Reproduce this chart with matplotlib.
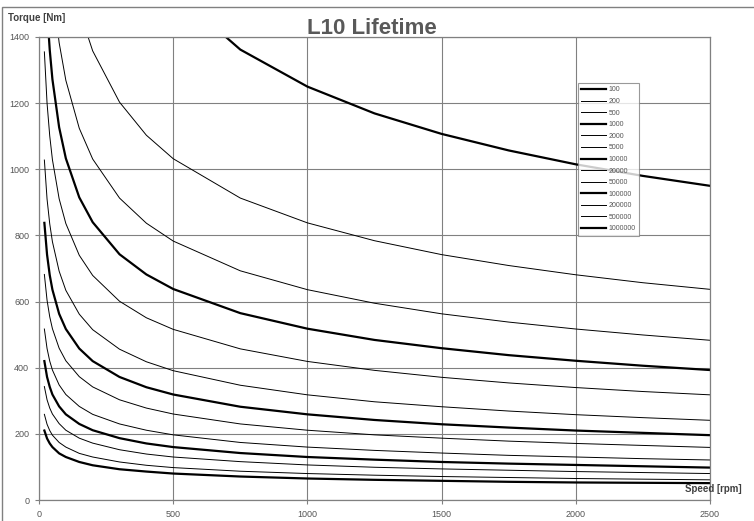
import numpy as np
import matplotlib
matplotlib.use("Agg")
import matplotlib.pyplot as plt
from matplotlib.patches import Rectangle

plt.rcParams['font.family'] = ['Liberation Sans', 'DejaVu Sans']

# speed grid [rpm]
speed = [20, 30, 40, 50, 75, 100, 150, 200, 300, 400, 500, 750,
         1000, 1250, 1500, 1750, 2000, 2250, 2500]
nan = np.nan

# torque [Nm] (nan = off the top of the chart)
life_100 = [nan, nan, nan, nan, nan, nan, nan, nan, nan, nan, 1539, 1362,
            1250, 1169, 1107, 1057, 1015, 980, 950]
life_200 = [nan, nan, nan, nan, nan, nan, 1481, 1358, 1203, 1103, 1032, 913,
            838, 784, 742, 709, 681, 657, 637]
life_500 = [nan, nan, nan, 1562, 1383, 1269, 1124, 1031, 913, 837, 783, 693,
            636, 595, 563, 538, 517, 499, 483]
life_1000 = [nan, 1483, 1361, 1272, 1127, 1033, 915, 840, 743, 682, 638, 565,
             518, 484, 459, 438, 421, 406, 393]
life_2000 = [1355, 1200, 1101, 1029, 911, 836, 740, 679, 601, 551, 516, 457,
             419, 392, 371, 354, 340, 328, 318]
life_5000 = [1028, 910, 835, 781, 692, 634, 562, 515, 456, 418, 391, 347,
             318, 297, 282, 269, 258, 249, 241]
life_10000 = [838, 742, 680, 636, 563, 517, 458, 420, 372, 341, 319, 282,
              259, 242, 229, 219, 210, 203, 196]
life_20000 = [682, 604, 554, 518, 459, 421, 373, 342, 303, 278, 260, 230,
              211, 197, 187, 178, 171, 165, 159]
life_50000 = [517, 458, 420, 393, 348, 319, 283, 259, 230, 211, 197, 174,
              160, 150, 142, 135, 130, 125, 121]
life_100000 = [420, 372, 342, 319, 283, 259, 230, 211, 187, 171, 160, 142,
               130, 122, 115, 110, 106, 102, 98]
life_200000 = [343, 303, 278, 260, 231, 211, 187, 172, 152, 139, 130, 116,
               106, 99, 94, 90, 86, 83, 80]
life_500000 = [259, 229, 210, 196, 174, 160, 141, 130, 115, 105, 98, 87,
               80, 75, 71, 68, 65, 63, 61]
life_1000000 = [210, 186, 171, 160, 141, 130, 115, 105, 93, 86, 80, 71,
                65, 61, 58, 55, 53, 52, 51]

labels = ["100", "200", "500", "1000", "2000", "5000", "10000", "20000",
          "50000", "100000", "200000", "500000", "1000000"]
curves = [life_100, life_200, life_500, life_1000, life_2000, life_5000,
          life_10000, life_20000, life_50000, life_100000, life_200000,
          life_500000, life_1000000]
thick = {"100", "1000", "10000", "100000", "1000000"}

W, H = 754, 521
fig = plt.figure(figsize=(W / 100, H / 100), dpi=100)
ax = fig.add_axes([39 / W, 1 - 500 / H, (710 - 39) / W, (500 - 37) / H])

grey = "#808080"
for lab, tq in zip(labels, curves):
    ax.plot(speed, tq, color="black", lw=1.6 if lab in thick else 0.7,
            label=lab, solid_joinstyle="round")

ax.set_xlim(0, 2500)
ax.set_ylim(0, 1400)
ax.set_xticks(np.arange(0, 2501, 500))
ax.set_yticks(np.arange(0, 1401, 200))
ax.grid(True, color=grey, lw=0.8)
ax.set_axisbelow(True)
for sp in ax.spines.values():
    sp.set_color(grey)
    sp.set_linewidth(0.9)
ax.tick_params(colors=grey, labelcolor="#555555", labelsize=6.5,
               length=3, width=0.8, pad=4)

leg = ax.legend(loc="upper left", bbox_to_anchor=((578 - 39) / 671, (500 - 83) / 463),
                borderaxespad=0, fontsize=5, frameon=True, fancybox=False,
                handlelength=3.6, handletextpad=0.3, labelspacing=0.66,
                borderpad=0.5, labelcolor="#555555")
leg.get_frame().set_edgecolor(grey)
leg.get_frame().set_linewidth(0.8)

fig.text(8 / W, 1 - 18 / H, "Torque [Nm]", fontsize=7, fontweight="bold",
         color="#404040", ha="left", va="center")
fig.text(742 / W, 1 - 489 / H, "Speed [rpm]", fontsize=7, fontweight="bold",
         color="#404040", ha="right", va="center")
fig.text(372 / W, 1 - 28 / H, "L10 Lifetime", fontsize=16, fontweight="bold",
         color="#595959", ha="center", va="center")

# outer chart border
fig.patches.append(Rectangle((2 / W, -0.1), 1.1, 1 - 7 / H + 0.1,
                             transform=fig.transFigure, fill=False,
                             edgecolor=grey, lw=1.0))

fig.savefig("out.png", dpi=100)
